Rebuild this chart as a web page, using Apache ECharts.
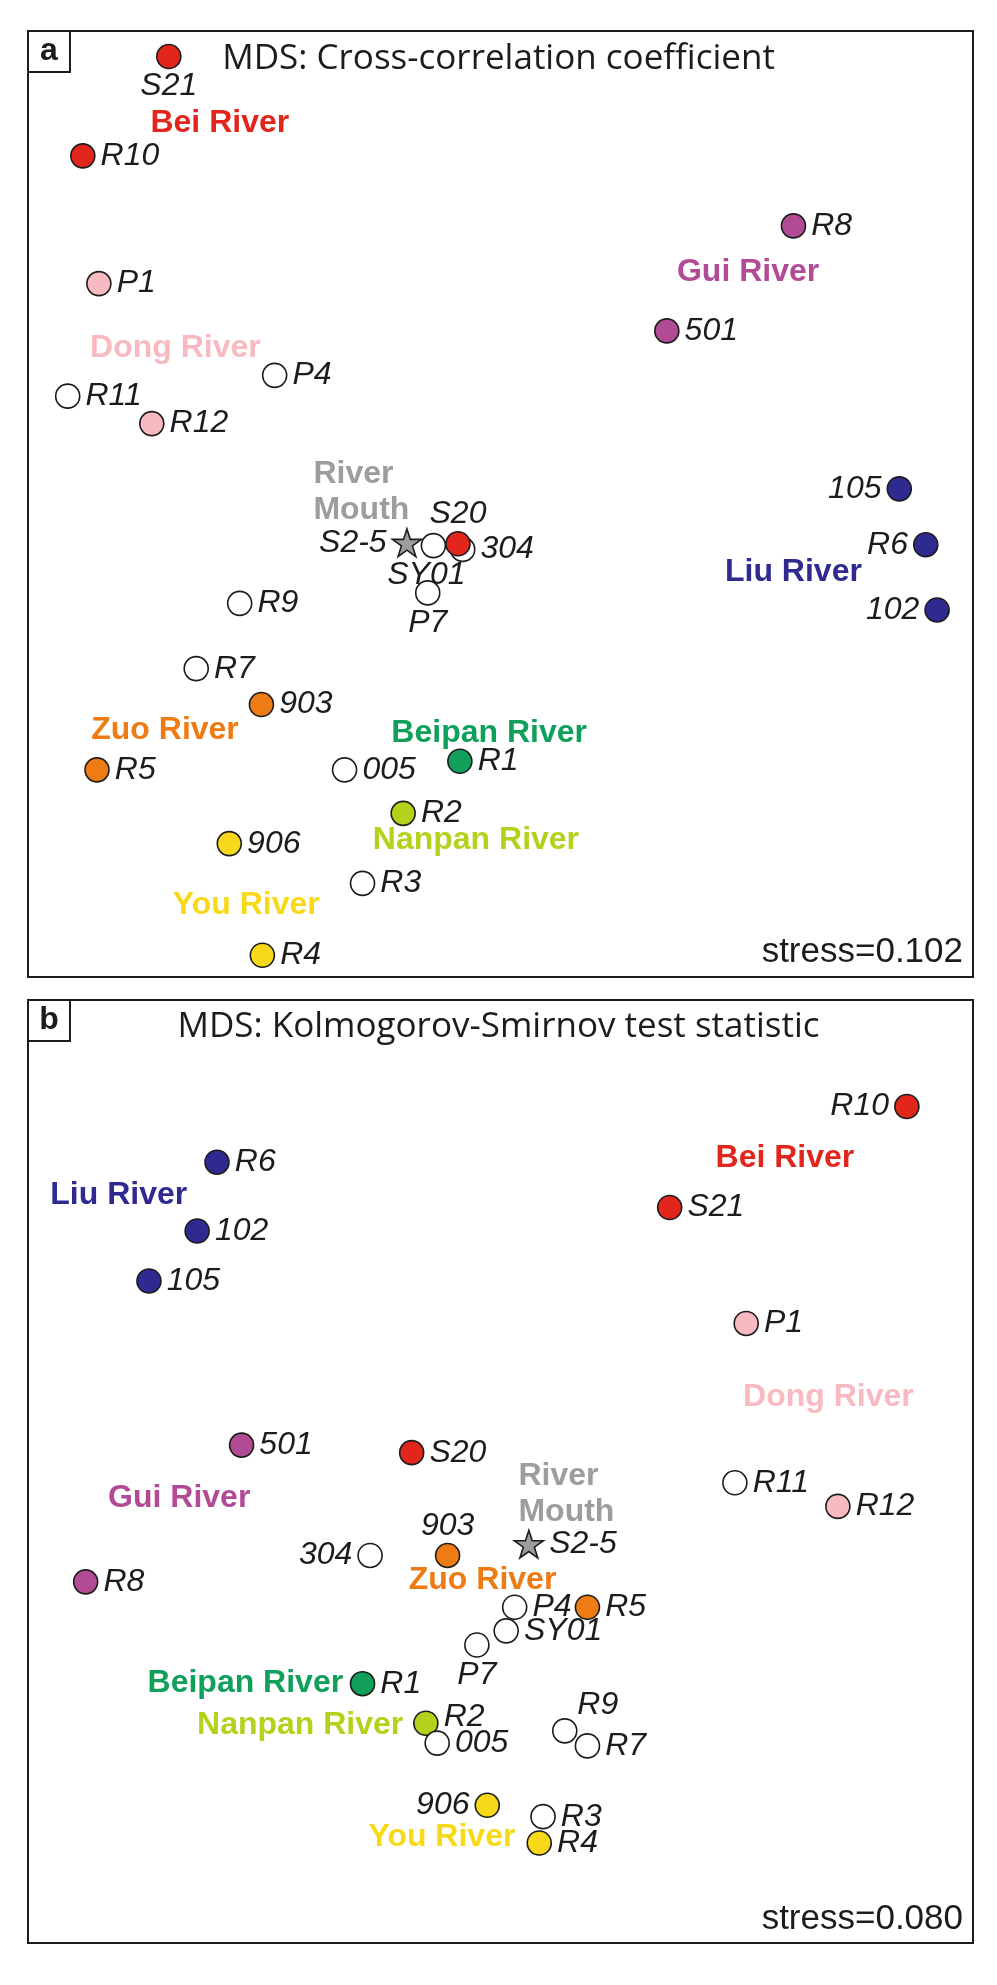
<!DOCTYPE html>
<html>
<head>
<meta charset="utf-8">
<script src="https://cdn.jsdelivr.net/npm/echarts@6/dist/echarts.min.js"></script>
<style>
  html, body { margin: 0; padding: 0; background: #fff; }
  #chart { width: 997px; height: 1985px; }
</style>
</head>
<body>
<div id="chart"></div>
<script>
// MDS coordinates in frame units (0-100 on both dims)

// panel a: cross-correlation coefficient
const samplesA = ['S21', 'R10', 'P1', 'P4', 'R11', 'R12', 'R8', '501', '105', 'R6', '102', 'S2-5', 'SY01', '304', 'S20', 'P7', 'R9', 'R7', '903', 'R5', '005', 'R1', 'R2', '906', 'R3', 'R4']
const dim1A = [14.9, 5.8, 7.5, 26.1, 4.2, 13.1, 81.0, 67.6, 92.2, 95.0, 96.2, 40.1, 42.9, 46.0, 45.5, 42.3, 22.4, 17.8, 24.7, 7.3, 33.5, 45.7, 39.7, 21.3, 35.4, 24.8]
const dim2A = [97.3, 86.8, 73.3, 63.6, 61.4, 58.5, 79.4, 68.3, 51.6, 45.7, 38.8, 45.9, 45.6, 45.2, 45.8, 40.6, 39.5, 32.6, 28.8, 21.9, 21.9, 22.8, 17.3, 14.1, 9.9, 2.3]
const riverA = ['bei', 'bei', 'dong', 'none', 'none', 'dong', 'gui', 'gui', 'liu', 'liu', 'liu', 'mouth', 'none', 'none', 'bei', 'none', 'none', 'none', 'zuo', 'zuo', 'none', 'beipan', 'nanpan', 'you', 'none', 'you']
const stressA = 0.102

// panel b: Kolmogorov-Smirnov test statistic
const samplesB = ['R6', '102', '105', '501', 'R8', 'S20', 'R10', 'S21', 'P1', 'R11', 'R12', 'S2-5', '903', '304', 'P4', 'R5', 'SY01', 'P7', 'R1', 'R2', '005', 'R9', 'R7', '906', 'R3', 'R4']
const dim1B = [20.0, 17.9, 12.8, 22.6, 6.1, 40.6, 93.0, 67.9, 76.0, 74.8, 85.7, 53.0, 44.4, 36.2, 51.5, 59.2, 50.6, 47.5, 35.4, 42.1, 43.3, 56.8, 59.2, 48.6, 54.5, 54.1]
const dim2B = [82.8, 75.5, 70.2, 52.8, 38.3, 52.0, 88.7, 78.0, 65.7, 48.8, 46.3, 42.3, 41.1, 41.1, 35.6, 35.6, 33.1, 31.6, 27.5, 23.3, 21.2, 22.5, 20.9, 14.6, 13.4, 10.6]
const riverB = ['liu', 'liu', 'liu', 'gui', 'gui', 'bei', 'bei', 'bei', 'dong', 'none', 'dong', 'mouth', 'zuo', 'none', 'none', 'zuo', 'none', 'none', 'beipan', 'nanpan', 'none', 'none', 'none', 'you', 'none', 'you']
const stressB = 0.080

// river group names and where they are written
const riverKeys = ['bei', 'dong', 'gui', 'liu', 'mouth', 'zuo', 'beipan', 'nanpan', 'you']
const riverNames = ['Bei River', 'Dong River', 'Gui River', 'Liu River', 'River\nMouth', 'Zuo River', 'Beipan River', 'Nanpan River', 'You River']
const nameDim1A = [20.3, 15.6, 76.2, 81.0, 30.2, 14.5, 48.8, 47.4, 23.1]
const nameDim2A = [90.3, 66.5, 74.5, 42.8, 51.3, 26.1, 25.8, 14.5, 7.6]
const nameDim1B = [80.1, 84.7, 16.0, 9.6, 51.9, 48.1, 23.0, 28.8, 43.8]
const nameDim2B = [83.2, 57.9, 47.2, 79.3, 47.6, 38.5, 27.6, 23.1, 11.2]

const colors = {
  bei: '#e2261c',
  dong: '#f8bac0',
  gui: '#b24b96',
  liu: '#2f2a8f',
  mouth: '#9d9d9d',
  zuo: '#ef7b14',
  beipan: '#10a05b',
  nanpan: '#b5d11b',
  you: '#f8d91a',
  none: '#ffffff'
}

// label placement around the markers
const labelPosA = { S21: 'bottom', 105: 'left', R6: 'left', 102: 'left', 'S2-5': 'left', SY01: 'bottom', S20: 'top', P7: 'bottom' }
const labelOffA = { SY01: [-7, 0] }
const labelPosB = { R10: 'left', 906: 'left', 304: 'left', P7: 'bottom', R9: 'top', 903: 'top' }
const labelOffB = { R9: [33, 4], R2: [0, -6] }

const star = 'path://M50,2 L61,36 L97,36 L68,57 L79,92 L50,71 L21,92 L32,57 L3,36 L39,36 Z'
const ink = '#1c1c1c'
const arial = '"Liberation Sans", Arial, sans-serif'

const pointData = (names, xs, ys, rivers, pos, off) => names.map((n, i) => ({
  name: n,
  value: [xs[i], ys[i]],
  symbol: rivers[i] === 'mouth' ? star : 'circle',
  symbolSize: rivers[i] === 'mouth' ? 29 : 24,
  itemStyle: { color: colors[rivers[i]] },
  label: {
    position: pos[n] || 'right',
    offset: off[n] || [0, 0],
    distance: (pos[n] === 'top' || pos[n] === 'bottom') ? 1 : 5
  }
}))

const nameData = (xs, ys) => riverNames.map((n, i) => ({
  name: n,
  value: [xs[i], ys[i]],
  label: riverKeys[i] === 'mouth'
    ? { color: colors.mouth, align: 'left', lineHeight: 36 }
    : { color: colors[riverKeys[i]] }
}))

const pointSeries = (idx, data) => ({
  type: 'scatter',
  xAxisIndex: idx,
  yAxisIndex: idx,
  data,
  silent: true,
  symbolKeepAspect: true,
  itemStyle: { borderColor: ink, borderWidth: 1.6, opacity: 1 },
  label: {
    show: true,
    formatter: '{b}',
    color: ink,
    fontFamily: arial,
    fontStyle: 'italic',
    fontSize: 32
  },
  z: 3
})

const nameSeries = (idx, data) => ({
  type: 'scatter',
  xAxisIndex: idx,
  yAxisIndex: idx,
  data,
  silent: true,
  symbolSize: 1,
  itemStyle: { color: 'rgba(0,0,0,0)', opacity: 1 },
  label: {
    show: true,
    position: 'inside',
    formatter: '{b}',
    fontFamily: arial,
    fontWeight: 'bold',
    fontSize: 32
  },
  z: 2
})

const frames = [
  { left: 28, top: 31, width: 945, height: 946 },
  { left: 28, top: 1000, width: 945, height: 943 }
]

const chart = echarts.init(document.getElementById('chart'), null, { renderer: 'canvas' })

chart.setOption({
  backgroundColor: '#fff',
  animation: false,
  grid: frames.map(f => ({ ...f, show: true, borderColor: ink, borderWidth: 2, backgroundColor: '#fff' })),
  xAxis: [0, 1].map(i => ({ gridIndex: i, type: 'value', min: 0, max: 100, show: false })),
  yAxis: [0, 1].map(i => ({ gridIndex: i, type: 'value', min: 0, max: 100, show: false })),
  title: [
    { text: 'MDS: Cross-correlation coefficient', left: 'center', top: 42 },
    { text: 'MDS: Kolmogorov-Smirnov test statistic', left: 'center', top: 1010 },
    { text: 'stress=' + stressA.toFixed(3), right: 34, top: 935 },
    { text: 'stress=' + stressB.toFixed(3), right: 34, top: 1902 }
  ].map((t, i) => ({
    ...t,
    padding: 0,
    textStyle: i < 2
      ? { fontFamily: '"Open Sans", Lato, sans-serif', fontWeight: 'normal', fontSize: 35, color: ink }
      : { fontFamily: arial, fontWeight: 'normal', fontSize: 35, color: ink }
  })),
  graphic: [
    { type: 'rect', shape: { x: 28, y: 31, width: 42, height: 41 }, style: { fill: '#fff', stroke: ink, lineWidth: 2 }, z: 10 },
    { type: 'text', style: { text: 'a', x: 49, y: 51, textAlign: 'center', textVerticalAlign: 'middle', font: 'bold 32px "Liberation Sans", Arial', fill: ink }, z: 11 },
    { type: 'rect', shape: { x: 28, y: 1000, width: 42, height: 41 }, style: { fill: '#fff', stroke: ink, lineWidth: 2 }, z: 10 },
    { type: 'text', style: { text: 'b', x: 49, y: 1020, textAlign: 'center', textVerticalAlign: 'middle', font: 'bold 32px "Liberation Sans", Arial', fill: ink }, z: 11 }
  ],
  series: [
    nameSeries(0, nameData(nameDim1A, nameDim2A)),
    pointSeries(0, pointData(samplesA, dim1A, dim2A, riverA, labelPosA, labelOffA)),
    nameSeries(1, nameData(nameDim1B, nameDim2B)),
    pointSeries(1, pointData(samplesB, dim1B, dim2B, riverB, labelPosB, labelOffB))
  ]
})
</script>
</body>
</html>
